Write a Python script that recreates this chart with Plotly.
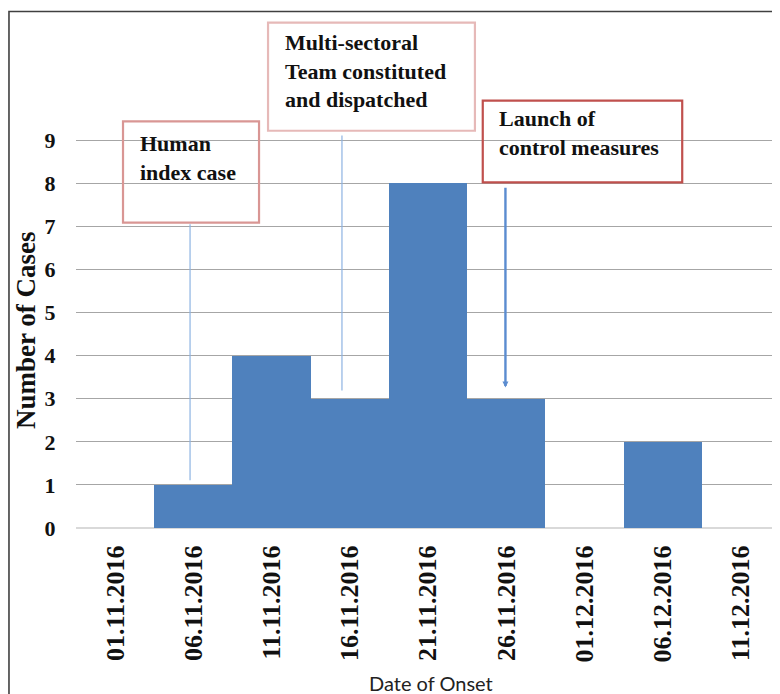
import plotly.graph_objects as go

dates = ["01.11.2016", "06.11.2016", "11.11.2016", "16.11.2016", "21.11.2016",
         "26.11.2016", "01.12.2016", "06.12.2016", "11.12.2016"]
cases = [0, 1, 4, 3, 8, 3, 0, 2, 0]
y_ticks = [0, 1, 2, 3, 4, 5, 6, 7, 8, 9]

SERIF = "Liberation Serif, Times New Roman, serif"
fig = go.Figure()
fig.add_trace(go.Bar(x=list(range(len(dates))), y=cases, marker=dict(color="#4F81BD", line=dict(width=0)),
                     hoverinfo="skip", showlegend=False))

# page body has an 8px margin: figure is 772x686 placed at (8, 8)
fig.update_layout(
    width=772, height=686,
    margin=dict(l=68, r=0, t=3, b=166),
    paper_bgcolor="white", plot_bgcolor="white",
    bargap=0,
    showlegend=False,
)
fig.update_xaxes(
    tickmode="array", tickvals=list(range(len(dates))), ticktext=["<b>%s</b>" % d for d in dates],
    range=[-0.5, len(dates) - 0.5],
    tickangle=-90, tickfont=dict(family=SERIF, size=26, color="#111"),
    showgrid=False, zeroline=False, showline=False,
    ticks="outside", ticklen=6, tickcolor="rgba(0,0,0,0)",
)
fig.update_yaxes(
    range=[0, 12], tickmode="array", tickvals=y_ticks, ticktext=["<b>%d</b>" % v for v in y_ticks],
    tickfont=dict(family=SERIF, size=22, color="#111"),
    showgrid=True, gridcolor="#A6A6A6", gridwidth=1.3,
    zeroline=True, zerolinecolor="#D9D9D9", zerolinewidth=1.5,
    showline=False,
    ticks="outside", ticklen=15, tickcolor="rgba(0,0,0,0)",
)

# outer frame
fig.add_shape(type="rect", xref="paper", yref="paper", x0=-0.0952, x1=1.02, y0=-0.4, y1=0.999,
              line=dict(color="#404040", width=1.6), fillcolor="rgba(0,0,0,0)", layer="above")

# event lines
fig.add_shape(type="line", xref="x", yref="y", x0=0.958, x1=0.958, y0=1.11, y1=7.05,
              line=dict(color="#8DB3E2", width=1.2))
fig.add_shape(type="line", xref="x", yref="y", x0=2.90, x1=2.90, y0=3.19, y1=9.11,
              line=dict(color="#8DB3E2", width=1.2))
fig.add_annotation(x=4.99, y=3.26, ax=4.99, ay=7.93, xref="x", yref="y", axref="x", ayref="y",
                   text="", showarrow=True, arrowhead=2, arrowsize=0.5, arrowwidth=2.4,
                   arrowcolor="#5B8CD0")

# boxes
boxes = [
    dict(x0=0.101, x1=1.84, y0=7.09, y1=9.44, color="#D99694",
         text="Human<br>index case", tx=0.29, ty=9.25),
    dict(x0=1.955, x1=4.60, y0=9.22, y1=11.73, color="#E6B9B8",
         text="Multi-sectoral<br>Team constituted<br>and dispatched", tx=2.14, ty=11.60),
    dict(x0=4.70, x1=7.25, y0=8.02, y1=9.92, color="#C0504D",
         text="Launch of<br>control measures", tx=4.88, ty=9.83),
]
for b in boxes:
    fig.add_shape(type="rect", xref="x", yref="y", x0=b["x0"], x1=b["x1"], y0=b["y0"], y1=b["y1"],
                  line=dict(color=b["color"], width=2.2), fillcolor="rgba(255,255,255,0)", layer="above")
    fig.add_annotation(x=b["tx"], y=b["ty"], xref="x", yref="y",
                       text="<br>".join("<b>%s</b>" % s for s in b["text"].split("<br>")),
                       showarrow=False, xanchor="left", yanchor="top", align="left",
                       font=dict(family=SERIF, size=22, color="#111"))

# axis titles
fig.add_annotation(text="<b>Number of Cases</b>", xref="paper", yref="paper", x=-0.0710,
                   y=0.383, textangle=-90, showarrow=False, xanchor="center", yanchor="middle",
                   font=dict(family=SERIF, size=27, color="#111"))
fig.add_annotation(text="Date of Onset", xref="paper", yref="paper", x=0.504, y=-0.300,
                   showarrow=False, xanchor="center", yanchor="middle",
                   font=dict(family="Lato", size=20, color="#222"))

fig.write_html("out.html")
